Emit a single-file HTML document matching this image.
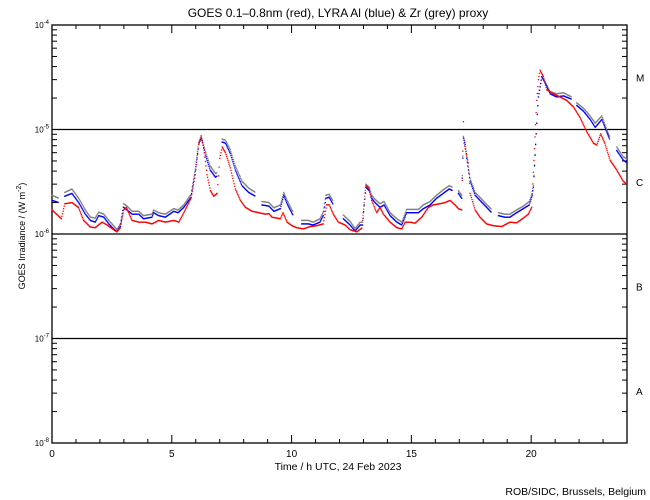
<!DOCTYPE html>
<html><head><meta charset="utf-8"><style>
body{margin:0;background:#fff;}
svg{display:block;font-family:"Liberation Sans",sans-serif;}
</style></head><body>
<svg id="chart" width="650" height="500">
<text x="338" y="17" text-anchor="middle" font-size="12">GOES 0.1–0.8nm (red), LYRA Al (blue) &amp; Zr (grey) proxy</text>
<text transform="translate(25,236) rotate(-90)" text-anchor="middle" font-size="9">GOES Irradiance / (W m<tspan dy="-4" font-size="7">-2</tspan><tspan dy="4">)</tspan></text>
<text x="338" y="470" text-anchor="middle" font-size="10.5">Time / h UTC, 24 Feb 2023</text>
<text x="646" y="495" text-anchor="end" font-size="10.5">ROB/SIDC, Brussels, Belgium</text>
<g id="axes"></g>
<g id="series"></g>
</svg>
<script>
const classLabels=["A","B","C","M"];
const decadeTicks=[-8,-7,-6,-5,-4];
const hourTicks=[0,5,10,15,20];
const redT=[0,0.39,0.53,0.83,1.1,1.32,1.59,1.8,2.09,2.3,2.57,2.71,2.85,2.99,3.1,3.34,3.62,3.9,4.17,4.45,4.73,5.08,5.29,5.5,5.8,5.98,6.12,6.22,6.33,6.47,6.61,6.75,6.89,7.0,7.1,7.24,7.44,7.65,7.86,8.07,8.35,8.63,8.9,9.05,9.18,9.53,9.64,9.81,10.02,10.21,10.49,10.77,11.04,11.32,11.46,11.57,11.74,11.95,12.23,12.44,12.72,12.93,12.99,13.1,13.24,13.34,13.55,13.69,13.83,14.11,14.39,14.6,14.74,14.94,15.15,15.43,15.71,15.91,16.19,16.4,16.61,16.82,16.96,17.1,17.17,17.2,17.37,17.45,17.66,17.86,18.14,18.42,18.77,19.11,19.39,19.67,19.88,20.02,20.09,20.16,20.23,20.3,20.37,20.51,20.65,20.93,21.2,21.48,21.76,22.04,22.32,22.6,22.74,22.9,23.07,23.29,23.57,23.84,24];
const redV=[1.7e-6,1.4e-6,1.95e-6,2.0e-6,1.8e-6,1.35e-6,1.17e-6,1.15e-6,1.3e-6,1.22e-6,1.1e-6,1.05e-6,1.15e-6,1.7e-6,1.8e-6,1.35e-6,1.3e-6,1.3e-6,1.25e-6,1.35e-6,1.3e-6,1.35e-6,1.3e-6,1.6e-6,2.2e-6,3.7e-6,7.2e-6,8.7e-6,6.6e-6,3.7e-6,2.6e-6,2.3e-6,2.45e-6,5.3e-6,6.8e-6,6.0e-6,4.3e-6,2.7e-6,2.1e-6,1.8e-6,1.65e-6,1.6e-6,1.55e-6,1.57e-6,1.45e-6,1.4e-6,1.6e-6,1.3e-6,1.2e-6,1.15e-6,1.12e-6,1.18e-6,1.2e-6,1.25e-6,1.9e-6,1.9e-6,1.55e-6,1.3e-6,1.22e-6,1.1e-6,1.05e-6,1.14e-6,1.6e-6,2.9e-6,2.7e-6,2.1e-6,1.6e-6,1.8e-6,1.55e-6,1.3e-6,1.15e-6,1.12e-6,1.3e-6,1.3e-6,1.27e-6,1.45e-6,1.8e-6,1.9e-6,1.95e-6,2.0e-6,2.1e-6,1.9e-6,1.75e-6,1.7e-6,1.19e-5,7.4e-6,4.8e-6,2.45e-6,1.7e-6,1.45e-6,1.25e-6,1.2e-6,1.18e-6,1.3e-6,1.28e-6,1.42e-6,1.55e-6,1.8e-6,3.9e-6,8.5e-6,1.9e-5,3.0e-5,3.7e-5,3.2e-5,2.4e-5,2.2e-5,2.05e-5,1.9e-5,1.65e-5,1.3e-5,9.5e-6,7.4e-6,7.1e-6,9.1e-6,7.4e-6,5.1e-6,4.1e-6,3.2e-6,3.0e-6];
const blueT=[0,0.28,null,0.53,0.83,1.11,1.39,1.6,1.8,1.95,2.16,2.37,2.57,2.71,2.85,2.99,3.13,3.34,3.62,3.82,4.17,4.24,4.45,4.73,5.08,5.26,5.5,5.8,5.98,6.12,6.23,6.4,6.6,6.82,6.9,null,7.1,7.24,7.44,7.65,7.93,8.21,8.49,null,8.76,9.05,9.26,9.53,9.67,9.81,10.0,10.07,null,10.42,10.7,10.9,11.18,11.32,11.43,11.57,11.74,null,12.16,12.44,12.65,12.86,12.96,13.03,13.1,13.24,13.34,13.48,13.69,13.86,14.11,14.39,14.6,14.8,15.01,15.29,15.5,15.78,16.05,16.33,16.58,16.72,null,16.96,17.1,17.17,17.24,17.31,17.45,17.66,17.86,18.14,18.35,null,18.63,18.9,19.11,19.39,19.67,19.92,20.02,20.09,20.23,20.3,20.44,20.58,20.79,21.06,21.34,21.69,null,21.9,22.18,22.46,22.67,22.95,23.15,23.29,null,23.57,23.84,24];
const blueV=[2.1e-6,2.0e-6,null,2.3e-6,2.45e-6,2.0e-6,1.55e-6,1.35e-6,1.3e-6,1.5e-6,1.45e-6,1.25e-6,1.12e-6,1.05e-6,1.18e-6,1.8e-6,1.7e-6,1.55e-6,1.55e-6,1.4e-6,1.45e-6,1.6e-6,1.5e-6,1.45e-6,1.65e-6,1.6e-6,1.8e-6,2.25e-6,4.0e-6,7.2e-6,8.3e-6,5.7e-6,4.1e-6,3.5e-6,3.6e-6,null,7.6e-6,7.4e-6,5.9e-6,4.1e-6,2.9e-6,2.5e-6,2.3e-6,null,1.9e-6,1.85e-6,1.65e-6,1.75e-6,2.35e-6,1.95e-6,1.6e-6,1.5e-6,null,1.25e-6,1.25e-6,1.22e-6,1.3e-6,1.5e-6,2.2e-6,2.25e-6,1.9e-6,null,1.4e-6,1.22e-6,1.07e-6,1.22e-6,1.22e-6,1.9e-6,2.8e-6,2.6e-6,2.2e-6,2.0e-6,1.8e-6,1.9e-6,1.5e-6,1.3e-6,1.22e-6,1.6e-6,1.6e-6,1.6e-6,1.75e-6,1.9e-6,2.2e-6,2.45e-6,2.7e-6,2.6e-6,null,2.45e-6,2.2e-6,8.3e-6,7.2e-6,5.3e-6,3.2e-6,2.35e-6,2.1e-6,1.8e-6,1.6e-6,null,1.5e-6,1.45e-6,1.45e-6,1.6e-6,1.75e-6,1.9e-6,2.25e-6,2.8e-6,1.15e-5,2.05e-5,3.2e-5,2.8e-5,2.2e-5,2.05e-5,2.1e-5,1.95e-5,null,1.7e-5,1.5e-5,1.25e-5,1.05e-5,1.25e-5,9.5e-6,7.9e-6,null,6.3e-6,5.1e-6,4.8e-6];
const greyT=[0,0.28,null,0.53,0.83,1.11,1.39,1.6,1.8,1.95,2.16,2.37,2.57,2.71,2.85,2.99,3.13,3.34,3.62,3.82,4.17,4.24,4.45,4.73,5.08,5.26,5.5,5.8,5.98,6.12,6.23,6.4,6.6,6.82,6.9,null,7.1,7.24,7.44,7.65,7.93,8.21,8.49,null,8.76,9.05,9.26,9.53,9.67,9.81,10.0,10.07,null,10.42,10.7,10.9,11.18,11.32,11.43,11.57,11.74,null,12.16,12.44,12.65,12.86,12.96,13.03,13.1,13.24,13.34,13.48,13.69,13.86,14.11,14.39,14.6,14.8,15.01,15.29,15.5,15.78,16.05,16.33,16.58,16.72,null,16.96,17.1,17.17,17.24,17.31,17.45,17.66,17.86,18.14,18.35,null,18.63,18.9,19.11,19.39,19.67,19.92,20.02,20.09,20.23,20.3,20.44,20.58,20.79,21.06,21.34,21.69,null,21.9,22.18,22.46,22.67,22.95,23.15,23.29,null,23.57,23.84,24];
const greyV=[2.35e-6,2.2e-6,null,2.5e-6,2.7e-6,2.2e-6,1.7e-6,1.45e-6,1.42e-6,1.62e-6,1.55e-6,1.35e-6,1.2e-6,1.1e-6,1.25e-6,1.95e-6,1.85e-6,1.65e-6,1.65e-6,1.5e-6,1.55e-6,1.7e-6,1.6e-6,1.55e-6,1.75e-6,1.7e-6,1.9e-6,2.4e-6,4.2e-6,7.5e-6,8.6e-6,6.2e-6,4.5e-6,3.8e-6,3.9e-6,null,8.1e-6,7.9e-6,6.4e-6,4.5e-6,3.2e-6,2.75e-6,2.5e-6,null,2.05e-6,2.0e-6,1.78e-6,1.9e-6,2.5e-6,2.1e-6,1.72e-6,1.62e-6,null,1.35e-6,1.35e-6,1.3e-6,1.4e-6,1.62e-6,2.35e-6,2.4e-6,2.05e-6,null,1.52e-6,1.32e-6,1.13e-6,1.3e-6,1.3e-6,2.0e-6,3.0e-6,2.8e-6,2.35e-6,2.15e-6,1.95e-6,2.05e-6,1.6e-6,1.4e-6,1.3e-6,1.72e-6,1.72e-6,1.72e-6,1.9e-6,2.05e-6,2.35e-6,2.65e-6,2.9e-6,2.8e-6,null,2.6e-6,2.35e-6,8.6e-6,7.6e-6,5.6e-6,3.4e-6,2.5e-6,2.25e-6,1.92e-6,1.72e-6,null,1.6e-6,1.55e-6,1.55e-6,1.7e-6,1.85e-6,2.05e-6,2.4e-6,2.9e-6,1.15e-5,2.05e-5,3.2e-5,2.85e-5,2.3e-5,2.2e-5,2.25e-5,2.05e-5,null,1.8e-5,1.6e-5,1.35e-5,1.15e-5,1.35e-5,1.0e-5,8.4e-6,null,6.8e-6,5.5e-6,5.2e-6];

const NS='http://www.w3.org/2000/svg';
const X0=52,X1=627,Y0=25,Y1=443;
function xScale(h){return X0+(h/24)*(X1-X0);}
function yScale(v){return Y1-(Math.log10(v)+8)/4*(Y1-Y0);}
function mk(tag,attrs,parent){const e=document.createElementNS(NS,tag);for(const k in attrs)e.setAttribute(k,attrs[k]);parent.appendChild(e);return e;}
const axes=document.getElementById('axes');
const frame=mk('rect',{x:X0,y:Y0,width:X1-X0,height:Y1-Y0,fill:'none',stroke:'#000','stroke-width':1.3},axes);


decadeTicks.forEach(d=>{
  const y=yScale(Math.pow(10,d));
  if(d>-8&&d<-4){
    const gl=mk('line',{x1:X0,x2:X1,y1:y,y2:y,stroke:'#000','stroke-width':1.3},axes);
    
    
  }
  const t=mk('text',{x:X0-3,y:y+3,'text-anchor':'end','font-size':8},axes);
  
  
  t.innerHTML='10<tspan dy="-4" font-size="6">'+d+'</tspan>';
  if(d<-4){for(let m=2;m<=9;m++){const ym=yScale(m*Math.pow(10,d));
    mk('line',{x1:X0,x2:X0+5,y1:ym,y2:ym,stroke:'#000'},axes);
    mk('line',{x1:X1,x2:X1-5,y1:ym,y2:ym,stroke:'#000'},axes);}}
});
classLabels.forEach((c,i)=>{
  const y=yScale(Math.pow(10,-8+i)*3.16);
  const t=mk('text',{x:X1+9,y:y+4,'font-size':10},axes);
  t.textContent=c;
  
  
});
for(let h=1;h<24;h++){const x=xScale(h);const L=(h%5===0)?8:4;
  mk('line',{x1:x,x2:x,y1:Y1,y2:Y1-L,stroke:'#000'},axes);
  mk('line',{x1:x,x2:x,y1:Y0,y2:Y0+L,stroke:'#000'},axes);}
hourTicks.forEach(h=>{
  const t=mk('text',{x:xScale(h),y:457,'text-anchor':'middle','font-size':10},axes);
  t.textContent=h;
  
  
});
const series=document.getElementById('series');
function draw(T,V,color,name){
  const g=mk('g',{fill:color},series);
  
  
  for(let i=0;i<T.length-1;i++){
    if(T[i]===null||T[i+1]===null)continue;
    const a=T[i],b=T[i+1],la=Math.log10(V[i]),lb=Math.log10(V[i+1]);
    const n=Math.max(1,Math.round((b-a)*40));
    for(let k=0;k<n;k++){const f=k/n;const h=a+(b-a)*f;const v=Math.pow(10,la+(lb-la)*f);
      mk('rect',{x:xScale(h)-0.6,y:yScale(v)-0.6,width:1.3,height:1.3},g);}
  }
}
draw(greyT,greyV,'#808080','zr-grey-series');
draw(blueT,blueV,'#0000ff','al-blue-series');
draw(redT,redV,'#ff0000','goes-red-series');
</script>
</body></html>
